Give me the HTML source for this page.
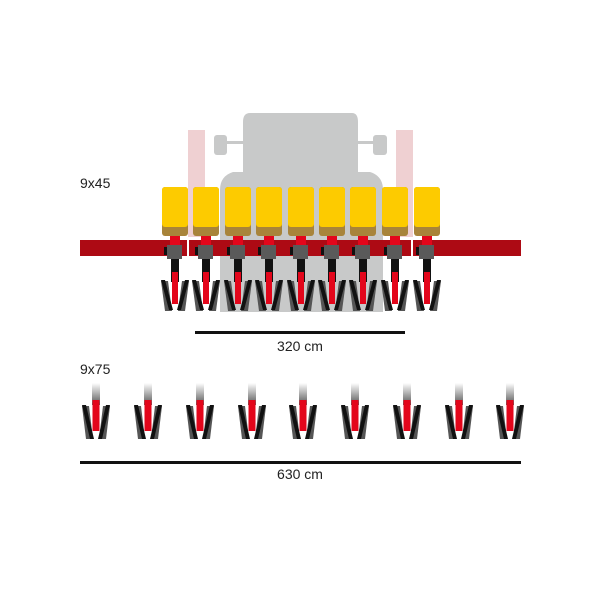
<!DOCTYPE html>
<html><head><style>body{margin:0;background:#fff}svg{display:block}</style></head>
<body>
<svg width="600" height="600" viewBox="0 0 600 600" xmlns="http://www.w3.org/2000/svg">
<defs>
<linearGradient id="g" x1="0" y1="0" x2="0" y2="1"><stop offset="0" stop-color="#fff"/><stop offset="1" stop-color="#555"/></linearGradient>
<g id="u">
  <rect x="-13" y="187" width="26" height="49" rx="3" fill="#a8843a"/>
  <rect x="-13" y="187" width="26" height="40" rx="3" fill="#fdcb00"/>
  <rect x="-5" y="236" width="10" height="10" fill="#e3061b"/>
  <rect x="-8" y="245" width="15" height="14" fill="#5a5a5a"/>
  <rect x="-11" y="247" width="3" height="8" fill="#111"/>
  <rect x="-4" y="259" width="8" height="23" fill="#111"/>
  <rect x="-3" y="272" width="6" height="32" fill="#e3061b"/>
  <polygon points="-14,281 -7,281 -3,311 -10,311" fill="#555"/>
  <polygon points="14,281 7,281 3,311 10,311" fill="#555"/>
  <polygon points="-14,280 -10,280 -2,310 -6,310" fill="#111"/>
  <polygon points="14,280 10,280 2,310 6,310" fill="#111"/>
</g>
<g id="b">
  <rect x="-4" y="383" width="8" height="22" fill="url(#g)"/>
  <rect x="-3.5" y="400" width="7" height="31" fill="#e3061b"/>
  <polygon points="-14,406 -7,406 -3,439 -10,439" fill="#555"/>
  <polygon points="14,406 7,406 3,439 10,439" fill="#555"/>
  <polygon points="-14,405 -10,405 -2,439 -6,439" fill="#111"/>
  <polygon points="14,405 10,405 2,439 6,439" fill="#111"/>
</g>
</defs>
<rect x="188" y="130" width="17" height="107" fill="#efd0d2"/>
<rect x="396" y="130" width="17" height="107" fill="#efd0d2"/>
<g fill="#c8c9c9">
  <path d="M250 113 H352 Q358 113 358 122 V172 H370 Q383 176 383 190 V312 H220 V190 Q220 176 233 172 H243 V122 Q243 113 250 113Z"/>
  <rect x="214" y="135" width="13" height="20" rx="3"/>
  <rect x="373" y="135" width="14" height="20" rx="3"/>
  <rect x="226" y="141" width="18" height="3"/>
  <rect x="358" y="141" width="16" height="3"/>
</g>
<rect x="80" y="240" width="441" height="16" fill="#ad0a14"/>
<rect x="187" y="240" width="2" height="16" fill="#fff"/>
<rect x="411" y="240" width="2" height="16" fill="#fff"/>
<use href="#u" x="175"/><use href="#u" x="206"/><use href="#u" x="238"/>
<use href="#u" x="269"/><use href="#u" x="301"/><use href="#u" x="332"/>
<use href="#u" x="363"/><use href="#u" x="395"/><use href="#u" x="427"/>
<rect x="195" y="331" width="210" height="3" fill="#111"/>
<rect x="80" y="461" width="441" height="3" fill="#111"/>
<use href="#b" x="96"/><use href="#b" x="148"/><use href="#b" x="200"/>
<use href="#b" x="252"/><use href="#b" x="303"/><use href="#b" x="355"/>
<use href="#b" x="407"/><use href="#b" x="459"/><use href="#b" x="510"/>
<g font-family="Liberation Sans, sans-serif" font-size="14" fill="#222">
<text x="80" y="188">9x45</text>
<text x="300" y="351" text-anchor="middle">320 cm</text>
<text x="80" y="374">9x75</text>
<text x="300" y="479" text-anchor="middle">630 cm</text>
</g>
</svg>
</body></html>
